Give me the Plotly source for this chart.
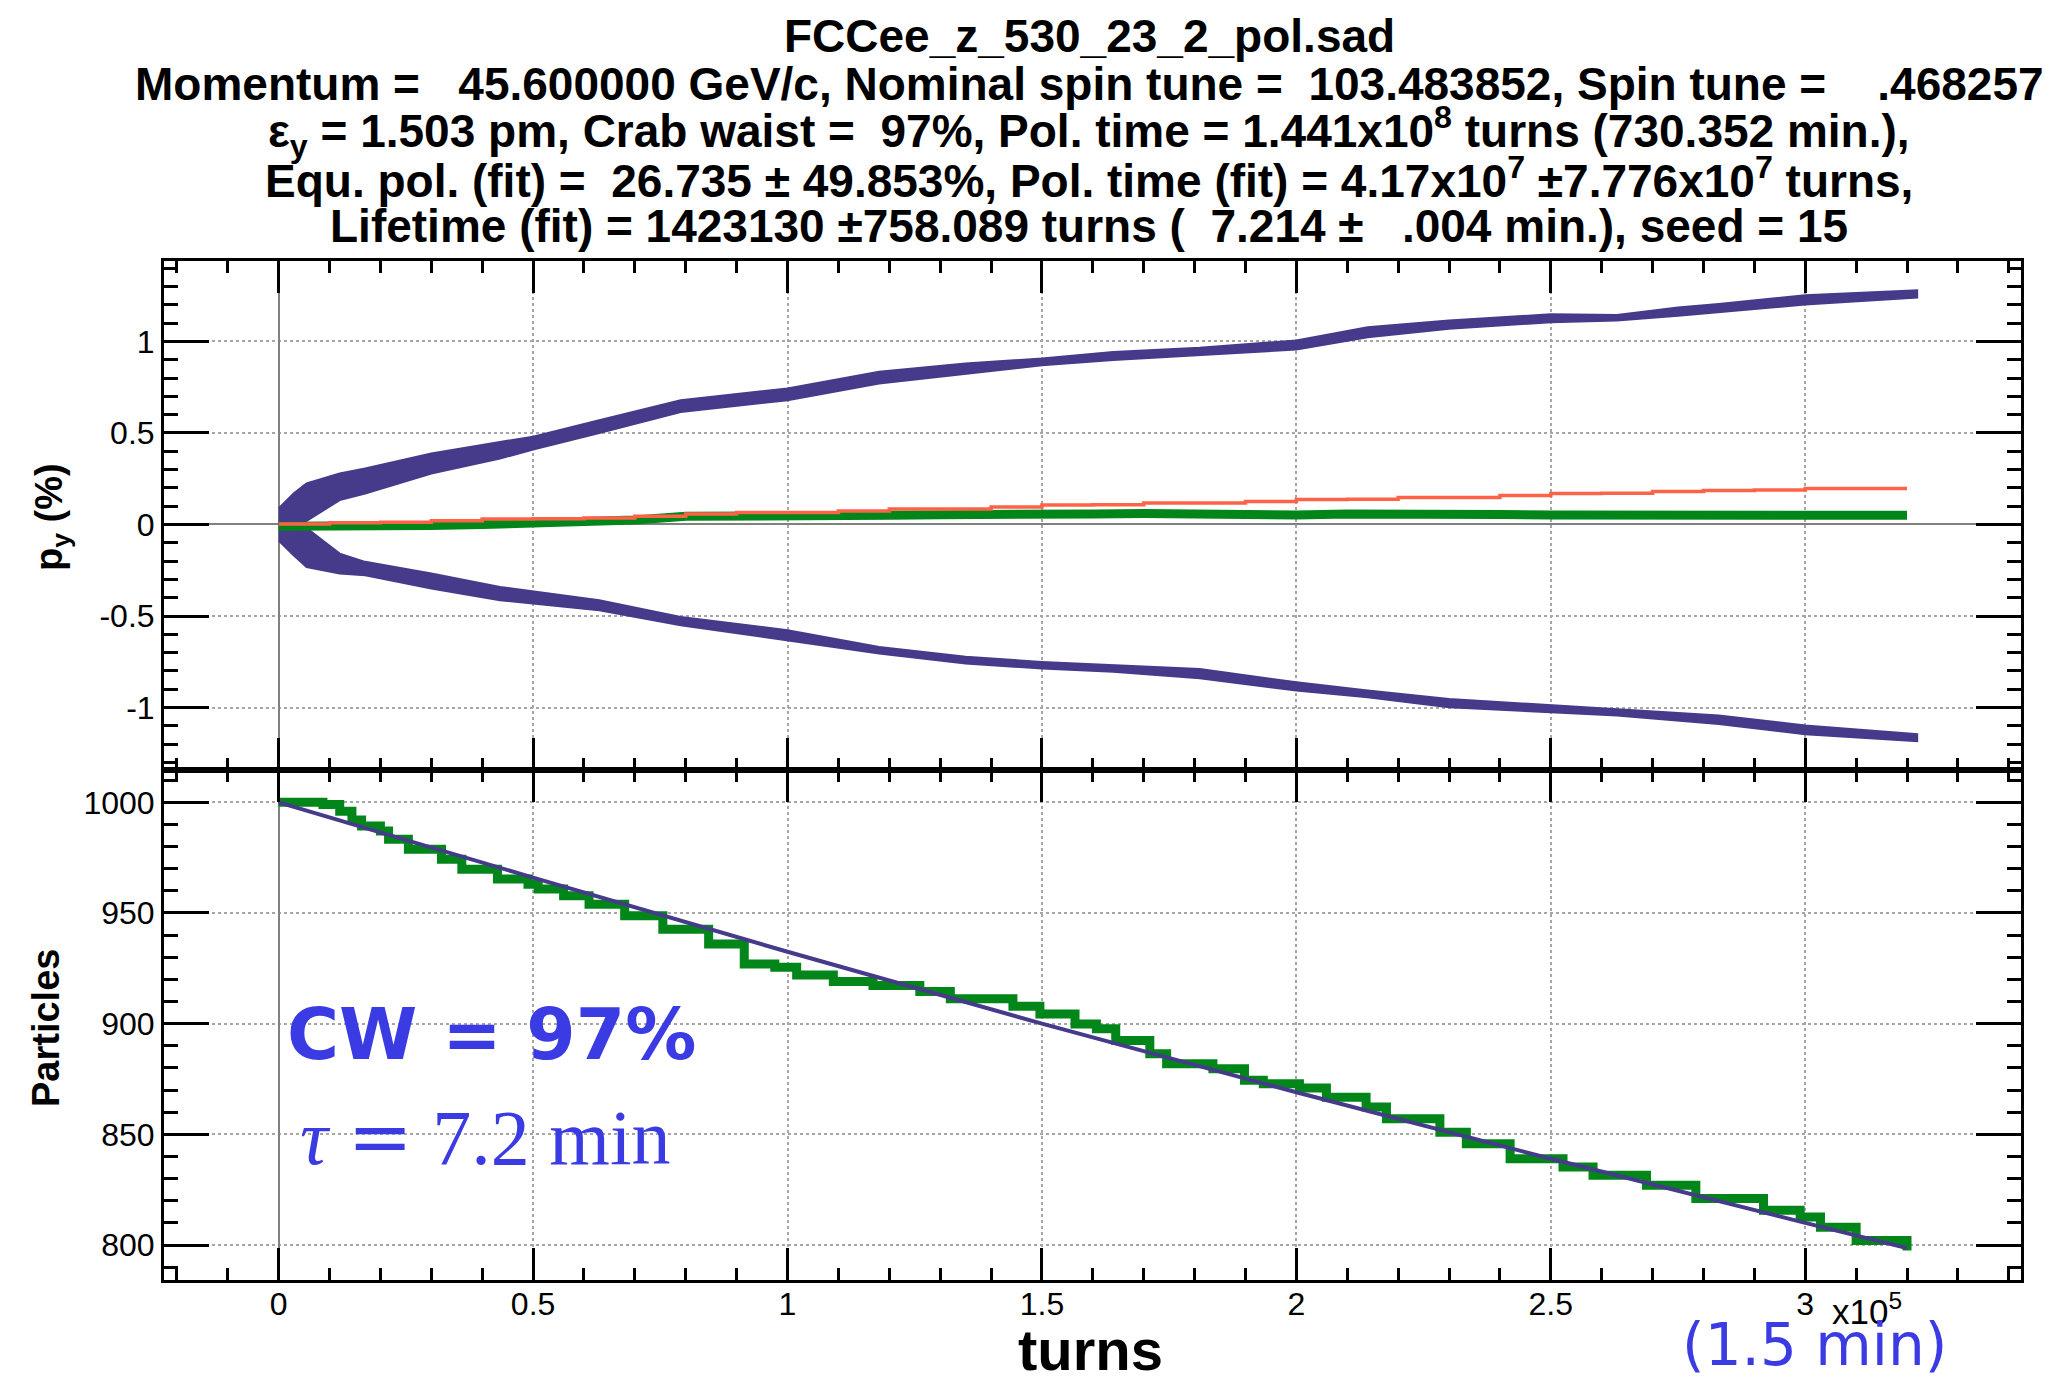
import plotly.graph_objects as go

# ---------------- data (turns in units of 1e5) ----------------
# upper branch of the vertical polarisation spread (band edges, %)
up_x = [0.0, 0.03, 0.055, 0.12, 0.17, 0.30, 0.435, 0.50, 0.63, 0.79, 1.00, 1.18, 1.35, 1.50,
        1.64, 1.81, 2.00, 2.14, 2.30, 2.50, 2.63, 2.75, 2.83, 3.00, 3.22]
up_hi = [0.087, 0.17, 0.224, 0.279, 0.306, 0.388, 0.451, 0.48, 0.57, 0.679, 0.743, 0.834, 0.88, 0.907,
         0.943, 0.966, 1.005, 1.078, 1.115, 1.148, 1.145, 1.185, 1.205, 1.253, 1.279]
up_lo = [0.0, 0.0, 0.02, 0.133, 0.169, 0.279, 0.36, 0.41, 0.50, 0.615, 0.679, 0.770, 0.825, 0.87,
         0.898, 0.924, 0.956, 1.023, 1.069, 1.105, 1.115, 1.14, 1.16, 1.202, 1.24]

# lower branch
dn_x = [0.0, 0.03, 0.055, 0.12, 0.17, 0.30, 0.435, 0.63, 0.79, 1.00, 1.18, 1.35, 1.50, 1.64,
        1.81, 2.00, 2.14, 2.30, 2.50, 2.63, 2.83, 3.00, 3.22]
dn_hi = [0.0, 0.0, -0.02, -0.159, -0.204, -0.268, -0.341, -0.414, -0.505, -0.578, -0.669, -0.723, -0.751, -0.769,
         -0.79, -0.862, -0.907, -0.953, -0.986, -1.008, -1.044, -1.098, -1.146]
dn_lo = [-0.087, -0.17, -0.232, -0.268, -0.277, -0.35, -0.414, -0.468, -0.55, -0.632, -0.705, -0.76, -0.787, -0.805,
         -0.84, -0.907, -0.944, -0.998, -1.026, -1.044, -1.09, -1.146, -1.184]

# mean polarisation (green) and polarisation fit (red), %
mean_x = [0.0, 0.1, 0.2, 0.3, 0.4, 0.5, 0.6, 0.7, 0.8, 0.9, 1.0, 1.1, 1.2, 1.3, 1.4, 1.5, 1.6,
          1.7, 1.8, 1.9, 2.0, 2.1, 2.2, 2.3, 2.4, 2.5, 2.6, 2.7, 2.8, 2.9, 3.0, 3.1, 3.2]
mean_py = [-0.01, -0.012, -0.01, -0.006, 0.0, 0.008, 0.015, 0.025, 0.045, 0.045, 0.04, 0.045, 0.05, 0.053,
           0.058, 0.06, 0.058, 0.06, 0.056, 0.055, 0.052, 0.058, 0.06, 0.055, 0.055, 0.052, 0.05, 0.052,
           0.05, 0.05, 0.05, 0.052, 0.05]
fit_x = [0.0, 0.1, 0.2, 0.3, 0.4, 0.5, 0.6, 0.7, 0.8, 0.9, 1.0, 1.1, 1.2, 1.3, 1.4, 1.5, 1.6,
         1.7, 1.8, 1.9, 2.0, 2.1, 2.2, 2.3, 2.4, 2.5, 2.6, 2.7, 2.8, 2.9, 3.0, 3.1, 3.2]
fit_py = [0.003, 0.01, 0.012, 0.02, 0.03, 0.032, 0.036, 0.045, 0.058, 0.065, 0.066, 0.074, 0.084, 0.085,
          0.096, 0.107, 0.108, 0.118, 0.118, 0.126, 0.137, 0.138, 0.148, 0.148, 0.158, 0.169, 0.17,
          0.18, 0.186, 0.188, 0.196, 0.197, 0.197]

# surviving particles (green) and lifetime fit (blue)
surv_x = [0.0, 0.087, 0.12, 0.144, 0.163, 0.2, 0.216, 0.255, 0.32, 0.36, 0.43, 0.49, 0.51, 0.56, 0.61,
          0.68, 0.755, 0.845, 0.915, 0.975, 1.018, 1.09, 1.168, 1.26, 1.32, 1.443, 1.496, 1.565, 1.607,
          1.645, 1.712, 1.745, 1.836, 1.898, 1.935, 2.006, 2.059, 2.137, 2.177, 2.282, 2.334, 2.42,
          2.524, 2.583, 2.688, 2.785, 2.918, 2.99, 3.03, 3.1, 3.2]
surv_n = [1000, 999, 996, 992, 989.3, 987, 983.3, 978.8, 974.3, 969.8, 965.3, 963, 960.8, 957.8, 954,
          948.8, 942.7, 936, 927, 925.5, 922, 919, 917.2, 914.5, 911.2, 907.9, 904.4, 899.9, 897.7,
          892.4, 886.4, 881.9, 879.6, 874.4, 872.9, 870.9, 866.8, 862.3, 857.1, 851, 845.8, 839,
          835.3, 831.5, 827, 821, 815.7, 812.7, 808, 802, 797.5]
life_x = [0.0, 0.5, 1.0, 1.5, 2.0, 2.5, 3.0, 3.2]
life_n = [1000, 966, 932.5, 900, 869, 839, 810, 798.6]

# tick labels
x_ticks = [0, 0.5, 1, 1.5, 2, 2.5, 3]
x_ticktext = ["0", "0.5", "1", "1.5", "2", "2.5", "3"]
py_ticks = [-1, -0.5, 0, 0.5, 1]
py_ticktext = ["-1", "-0.5", "0", "0.5", "1"]
n_ticks = [800, 850, 900, 950, 1000]
n_ticktext = ["800", "850", "900", "950", "1000"]

title_lines = [
    "FCCee_z_530_23_2_pol.sad",
    "Momentum =\u00a0\u00a0 45.600000 GeV/c, Nominal spin tune =\u00a0 103.483852, Spin tune =\u00a0\u00a0\u00a0 .468257",
    "\u03b5<sub>y</sub> = 1.503 pm, Crab waist =\u00a0 97%, Pol. time = 1.441x10<sup>8</sup> turns (730.352 min.),",
    "Equ. pol. (fit) =\u00a0 26.735 \u00b1 49.853%, Pol. time (fit) = 4.17x10<sup>7</sup> \u00b17.776x10<sup>7</sup> turns,",
    "Lifetime (fit) = 1423130 \u00b1758.089 turns (\u00a0 7.214 \u00b1\u00a0\u00a0 .004 min.), seed = 15",
]

# ---------------- styling ----------------
BAND = "#463a8b"
GREEN = "#02861a"
RED = "#ff6347"
NOTE = "#3b3be3"
W, H = 2045, 1378
ML, MR, MT, MB = 164, 24, 261, 98
PW, PH = W - ML - MR, H - MT - MB
SPLIT = 0.5005


def px(X):
    return (X - ML) / PW


def py(Y):
    return (H - MB - Y) / PH


fig = go.Figure()

# top panel: spread branches
fig.add_trace(go.Scatter(x=up_x + up_x[::-1], y=up_hi + up_lo[::-1], fill="toself",
                         fillcolor=BAND, line=dict(color=BAND, width=2), mode="lines",
                         xaxis="x2", yaxis="y2", hoverinfo="skip"))
fig.add_trace(go.Scatter(x=dn_x + dn_x[::-1], y=dn_hi + dn_lo[::-1], fill="toself",
                         fillcolor=BAND, line=dict(color=BAND, width=2), mode="lines",
                         xaxis="x2", yaxis="y2", hoverinfo="skip"))
fig.add_trace(go.Scatter(x=mean_x, y=mean_py, mode="lines", line=dict(color=GREEN, width=9),
                         xaxis="x2", yaxis="y2"))
fig.add_trace(go.Scatter(x=fit_x, y=fit_py, mode="lines", line=dict(color=RED, width=3.5, shape="hv"),
                         xaxis="x2", yaxis="y2"))

# bottom panel: particle survival
fig.add_trace(go.Scatter(x=surv_x, y=surv_n, mode="lines", line=dict(color=GREEN, width=9, shape="hv"),
                         xaxis="x", yaxis="y"))
fig.add_trace(go.Scatter(x=life_x, y=life_n, mode="lines", line=dict(color=BAND, width=4),
                         xaxis="x", yaxis="y"))

grid = dict(showgrid=True, gridcolor="#a6a6a6", gridwidth=1.5, griddash="3px,3px")
frame = dict(showline=True, linecolor="black", linewidth=3, mirror="ticks", ticks="inside",
             tickcolor="black", tickwidth=3)
tickfont = dict(family="Liberation Sans, Arial, sans-serif", size=32, color="black")
xrange = [-0.2253, 3.424]

xcommon = dict(range=xrange, tickvals=x_ticks, ticktext=x_ticktext, ticklen=32,
               minor=dict(dtick=0.1, tick0=0, ticklen=12, tickwidth=3, tickcolor="black", ticks="inside",
                          showgrid=False),
               zeroline=True, zerolinecolor="#808080", zerolinewidth=1.5,
               tickfont=tickfont, **grid, **frame)

fig.update_layout(
    width=W, height=H, margin=dict(l=ML, r=MR, t=MT, b=MB),
    paper_bgcolor="white", plot_bgcolor="white", showlegend=False,
    xaxis=dict(anchor="y", domain=[0, 1], showticklabels=True, ticklabelstandoff=-6, **xcommon),
    xaxis2=dict(anchor="y2", domain=[0, 1], matches="x", showticklabels=False, **xcommon),
    yaxis=dict(anchor="x", domain=[0, SPLIT], range=[784.2, 1014.6], tickvals=n_ticks,
               ticktext=n_ticktext, ticklen=45,
               minor=dict(dtick=10, tick0=800, ticklen=14, tickwidth=3, tickcolor="black",
                          ticks="inside", showgrid=False),
               zeroline=False, tickfont=tickfont, **grid, **frame),
    yaxis2=dict(anchor="x2", domain=[SPLIT, 1], range=[-1.3412, 1.4395], tickvals=py_ticks,
                ticktext=py_ticktext, ticklen=45,
                minor=dict(dtick=0.1, tick0=0, ticklen=14, tickwidth=3, tickcolor="black",
                           ticks="inside", showgrid=False),
                zeroline=True, zerolinecolor="#808080", zerolinewidth=1.5,
                tickfont=tickfont, **grid, **frame),
)

ann = []
title_font = dict(family="Liberation Sans Narrow, Arial Narrow, Liberation Sans, sans-serif",
                  size=46, color="black")
for i, line in enumerate(title_lines):
    ann.append(dict(text="<b>" + line + "</b>", x=px(1089), y=py(36.5 + 47.3 * i),
                    xref="paper", yref="paper", xanchor="center", yanchor="middle",
                    showarrow=False, font=title_font))

bold = dict(family="Liberation Sans, Arial, sans-serif", size=38, color="black")
ann.append(dict(text="<b>p<sub>y</sub> (%)</b>", x=px(52), y=py(517), textangle=-90,
                xref="paper", yref="paper", xanchor="center", yanchor="middle",
                showarrow=False, font=bold))
ann.append(dict(text="<b>Particles</b>", x=px(46), y=py(1028), textangle=-90,
                xref="paper", yref="paper", xanchor="center", yanchor="middle",
                showarrow=False, font=bold))
ann.append(dict(text="<b>turns</b>", x=px(1090), y=py(1349), xref="paper", yref="paper",
                xanchor="center", yanchor="middle", showarrow=False,
                font=dict(family="Liberation Sans, Arial, sans-serif", size=58, color="black")))
ann.append(dict(text="x10<sup>5</sup>", x=px(1830), y=py(1309), xref="paper", yref="paper",
                xanchor="left", yanchor="middle", showarrow=False,
                font=dict(family="Liberation Sans, Arial, sans-serif", size=35, color="black")))
ann.append(dict(text="(1.5 min)", x=px(1814), y=py(1345), xref="paper", yref="paper",
                xanchor="center", yanchor="middle", showarrow=False,
                font=dict(family="DejaVu Sans, sans-serif", size=58, color=NOTE)))
ann.append(dict(text="<b>CW = 97%</b>", x=px(285), y=py(1034), xref="paper", yref="paper",
                xanchor="left", yanchor="middle", showarrow=False,
                font=dict(family="DejaVu Sans, sans-serif", size=71, color=NOTE)))
ann.append(dict(text="<i>\u03c4</i>\u00a0<span style=\"font-family:'DejaVu Serif'\">=</span>\u00a07.2 min",
                x=px(298), y=py(1137),
                xref="paper", yref="paper", xanchor="left", yanchor="middle", showarrow=False,
                font=dict(family="Liberation Serif, Times New Roman, serif", size=78, color=NOTE)))
fig.update_layout(annotations=ann)

fig.write_html("out.html")
